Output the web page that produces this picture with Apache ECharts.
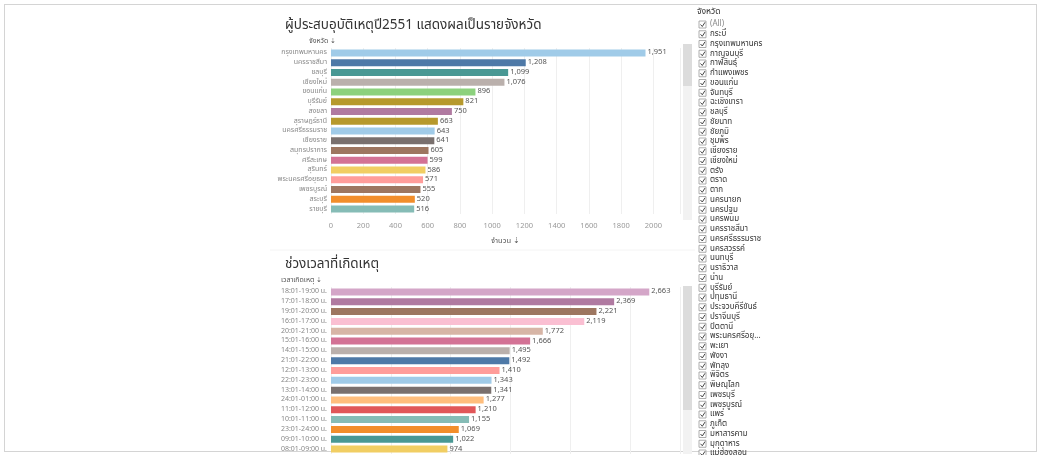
<!DOCTYPE html>
<html>
<head>
<meta charset="utf-8">
<script src="https://cdn.jsdelivr.net/npm/echarts@6/dist/echarts.min.js"></script>
<style>
  html, body { margin: 0; padding: 0; background: #fff; }
  #frame { position: absolute; left: 4px; top: 4px; width: 1031px; height: 446px; border: 1px solid #d4d4d4; }
  #chart { position: absolute; left: 0; top: 0; width: 1042px; height: 455px; }
</style>
</head>
<body>
<div id="frame"></div>
<div id="chart"></div>
<script>
// ---- data ----
const provinces = ['กรุงเทพมหานคร','นครราชสีมา','ชลบุรี','เชียงใหม่','ขอนแก่น','บุรีรัมย์','สงขลา','สุราษฎร์ธานี','นครศรีธรรมราช','เชียงราย','สมุทรปราการ','ศรีสะเกษ','สุรินทร์','พระนครศรีอยุธยา','เพชรบูรณ์','สระบุรี','ราชบุรี'];
const provinceCounts = [1951,1208,1099,1076,896,821,750,663,643,641,605,599,586,571,555,520,516];
const provinceColors = ['#A0CBE8','#4E79A7','#499894','#BAB0AC','#8CD17D','#B6992D','#B07AA1','#B6992D','#A0CBE8','#79706E','#9D7660','#D37295','#F1CE63','#FF9D9A','#9D7660','#F28E2B','#86BCB6'];

const timeSlots = ['18:01-19:00 น.','17:01-18:00 น.','19:01-20:00 น.','16:01-17:00 น.','20:01-21:00 น.','15:01-16:00 น.','14:01-15:00 น.','21:01-22:00 น.','12:01-13:00 น.','22:01-23:00 น.','13:01-14:00 น.','24:01-01:00 น.','11:01-12:00 น.','10:01-11:00 น.','23:01-24:00 น.','09:01-10:00 น.','08:01-09:00 น.'];
const timeCounts = [2663,2369,2221,2119,1772,1666,1495,1492,1410,1343,1341,1277,1210,1155,1069,1022,974];
const timeColors = ['#D4A6C8','#B07AA1','#9D7660','#FABFD2','#D7B5A6','#D37295','#BAB0AC','#4E79A7','#FF9D9A','#A0CBE8','#79706E','#FFBE7D','#E15759','#86BCB6','#F28E2B','#499894','#F1CE63'];

const filterTitle = 'จังหวัด';
const filterItems = ['(All)','กระบี่','กรุงเทพมหานคร','กาญจนบุรี','กาฬสินธุ์','กำแพงเพชร','ขอนแก่น','จันทบุรี','ฉะเชิงเทรา','ชลบุรี','ชัยนาท','ชัยภูมิ','ชุมพร','เชียงราย','เชียงใหม่','ตรัง','ตราด','ตาก','นครนายก','นครปฐม','นครพนม','นครราชสีมา','นครศรีธรรมราช','นครสวรรค์','นนทบุรี','นราธิวาส','น่าน','บุรีรัมย์','ปทุมธานี','ประจวบคีรีขันธ์','ปราจีนบุรี','ปัตตานี','พระนครศรีอยุ...','พะเยา','พังงา','พัทลุง','พิจิตร','พิษณุโลก','เพชรบุรี','เพชรบูรณ์','แพร่','ภูเก็ต','มหาสารคาม','มุกดาหาร','แม่ฮ่องสอน'];

const title1 = 'ผู้ประสบอุบัติเหตุปี2551 แสดงผลเป็นรายจังหวัด';
const title2 = 'ช่วงเวลาที่เกิดเหตุ';
const yHeader1 = 'จังหวัด ⇣';
const yHeader2 = 'เวลาเกิดเหตุ ⇣';
const xName1 = 'จำนวน ⇣';

// ---- chart ----
const FONT = '"Noto Sans Thai", Tahoma, "Noto Sans", sans-serif';
const fmt = v => v.toLocaleString('en-US');
const chart = echarts.init(document.getElementById('chart'), null, { renderer: 'canvas' });

const filterGraphics = [];
filterGraphics.push({ type: 'text', left: 697, top: 8, style: { text: filterTitle, fontSize: 8.5, fill: '#333', fontFamily: FONT } });
filterItems.forEach((name, i) => {
  const y = 20 + i * 9.75;
  filterGraphics.push({ type: 'rect', shape: { x: 699, y: y + 1, width: 7, height: 7 }, style: { fill: '#fff', stroke: '#999', lineWidth: 0.8 } });
  filterGraphics.push({ type: 'polyline', shape: { points: [[700.5, y + 4.5], [702.3, y + 6.5], [705, y + 2.3]] }, style: { stroke: '#444', lineWidth: 1, fill: null } });
  filterGraphics.push({ type: 'text', x: 710, y: y + 4.8, style: { text: name, fontSize: 8, fill: i === 0 ? '#888' : '#333', fontFamily: FONT, verticalAlign: 'middle' } });
});

const scrollGraphics = [
  { type: 'rect', shape: { x: 683, y: 44, width: 9, height: 176 }, style: { fill: '#f2f2f2' } },
  { type: 'rect', shape: { x: 683, y: 44, width: 9, height: 42 }, style: { fill: '#dcdcdc' } },
  { type: 'rect', shape: { x: 683, y: 286, width: 9, height: 168 }, style: { fill: '#f2f2f2' } },
  { type: 'rect', shape: { x: 683, y: 286, width: 9, height: 124 }, style: { fill: '#dcdcdc' } },
  { type: 'line', shape: { x1: 270, y1: 250, x2: 695, y2: 250 }, style: { stroke: '#f4f4f4', lineWidth: 1 } }
];

const yCommon = {
  type: 'category', inverse: true,
  axisLine: { show: false }, axisTick: { show: false },
  axisLabel: { interval: 0, fontSize: 7, color: '#888', margin: 4, fontFamily: FONT },
  nameLocation: 'start', nameGap: 3,
  nameTextStyle: { fontSize: 7, color: '#555', fontFamily: FONT, align: 'left', padding: [0, 0, 0, -50] }
};

const valueLabel = { show: true, position: 'right', distance: 2, fontSize: 7.5, color: '#555', fontFamily: FONT, formatter: p => fmt(p.value) };

const option = {
  animation: false,
  backgroundColor: 'transparent',
  textStyle: { fontFamily: FONT },
  title: [
    { text: title1, left: 280, top: 14, textStyle: { fontSize: 13.5, fontWeight: 'normal', color: '#333', fontFamily: FONT } },
    { text: title2, left: 280, top: 253, textStyle: { fontSize: 13.5, fontWeight: 'normal', color: '#333', fontFamily: FONT } }
  ],
  grid: [
    { left: 331, right: 362, top: 48, height: 166, containLabel: false },
    { left: 331, right: 362, top: 287, height: 167, containLabel: false }
  ],
  xAxis: [
    { gridIndex: 0, type: 'value', min: 0, max: 2165, interval: 200,
      axisLine: { show: false }, axisTick: { show: false },
      axisLabel: { fontSize: 7.5, color: '#999', margin: 8, showMaxLabel: false, fontFamily: FONT, formatter: v => String(v) },
      splitLine: { lineStyle: { color: '#efefef', width: 1 } },
      name: xName1, nameLocation: 'middle', nameGap: 23,
      nameTextStyle: { fontSize: 7.5, color: '#555', fontFamily: FONT } },
    { gridIndex: 1, type: 'value', min: 0, max: 2920, interval: 500,
      axisLine: { show: false }, axisTick: { show: false }, axisLabel: { show: false },
      splitLine: { lineStyle: { color: '#efefef', width: 1 } } }
  ],
  yAxis: [
    Object.assign({}, yCommon, { gridIndex: 0, data: provinces, name: yHeader1,
      nameTextStyle: Object.assign({}, yCommon.nameTextStyle, { padding: [0, 0, 0, -22] }) }),
    Object.assign({}, yCommon, { gridIndex: 1, data: timeSlots, name: yHeader2,
      nameTextStyle: Object.assign({}, yCommon.nameTextStyle, { padding: [0, 0, 0, -50] }) })
  ],
  series: [
    { type: 'bar', xAxisIndex: 0, yAxisIndex: 0, barWidth: 7,
      data: provinceCounts.map((v, i) => ({ value: v, itemStyle: { color: provinceColors[i] } })),
      label: valueLabel },
    { type: 'bar', xAxisIndex: 1, yAxisIndex: 1, barWidth: 7,
      data: timeCounts.map((v, i) => ({ value: v, itemStyle: { color: timeColors[i] } })),
      label: valueLabel }
  ],
  graphic: scrollGraphics.concat(filterGraphics)
};
chart.setOption(option);
</script>
</body>
</html>
